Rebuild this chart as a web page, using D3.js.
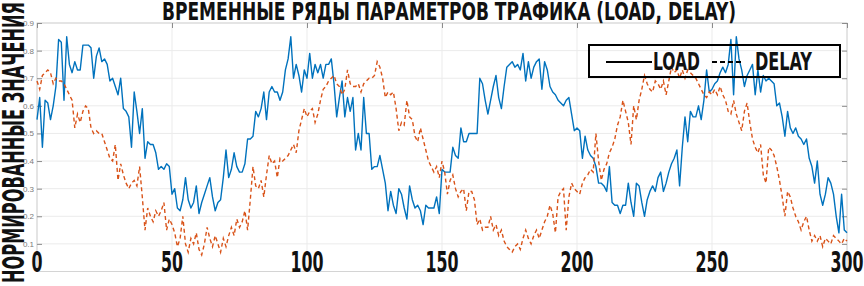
<!DOCTYPE html>
<html>
<head>
<meta charset="utf-8">
<script src="https://cdn.jsdelivr.net/npm/d3@7"></script>
<style>
  body { margin: 0; background: #fff; }
  svg { display: block; }
</style>
</head>
<body>
<div id="chart"></div>
<script>
// --- data ---
const titleText = "ВРЕМЕННЫЕ РЯДЫ ПАРАМЕТРОВ ТРАФИКА (LOAD, DELAY)";
const yLabelText = "НОРМИРОВАННЫЕ ЗНАЧЕНИЯ";
const xTicks = [0, 50, 100, 150, 200, 250, 300];
const yTicks = [0.1, 0.2, 0.3, 0.4, 0.5, 0.6, 0.7, 0.8, 0.9];
const seriesNames = ["LOAD", "DELAY"];

const loadValues = [
  0.55, 0.63, 0.45, 0.62, 0.61, 0.55, 0.60, 0.67, 0.84, 0.83,
  0.62, 0.85, 0.75, 0.72, 0.76, 0.73, 0.73, 0.82, 0.82, 0.82,
  0.81, 0.70, 0.78, 0.81, 0.76, 0.77, 0.75, 0.69, 0.70, 0.67,
  0.64, 0.70, 0.59, 0.58, 0.56, 0.45, 0.65, 0.58, 0.50, 0.59,
  0.41, 0.47, 0.46, 0.46, 0.43, 0.37, 0.38, 0.37, 0.39, 0.38,
  0.28, 0.30, 0.23, 0.22, 0.26, 0.34, 0.26, 0.23, 0.25, 0.31,
  0.21, 0.25, 0.28, 0.31, 0.34, 0.27, 0.22, 0.25, 0.26, 0.34,
  0.44, 0.34, 0.37, 0.43, 0.38, 0.36, 0.36, 0.39, 0.48, 0.48,
  0.49, 0.58, 0.56, 0.59, 0.65, 0.55, 0.65, 0.67, 0.65, 0.65,
  0.62, 0.65, 0.73, 0.77, 0.85, 0.70, 0.75, 0.71, 0.65, 0.73,
  0.70, 0.79, 0.70, 0.75, 0.72, 0.75, 0.70, 0.75, 0.75, 0.77,
  0.68, 0.56, 0.63, 0.69, 0.56, 0.63, 0.58, 0.63, 0.44, 0.50,
  0.44, 0.63, 0.50, 0.50, 0.37, 0.38, 0.38, 0.42, 0.37, 0.32,
  0.22, 0.29, 0.24, 0.21, 0.30, 0.28, 0.23, 0.19, 0.31, 0.26,
  0.23, 0.24, 0.22, 0.17, 0.24, 0.23, 0.23, 0.23, 0.27, 0.21,
  0.37, 0.36, 0.36, 0.36, 0.45, 0.42, 0.41, 0.52, 0.47, 0.47,
  0.50, 0.50, 0.50, 0.50, 0.70, 0.68, 0.62, 0.57, 0.62, 0.67,
  0.71, 0.63, 0.59, 0.67, 0.74, 0.75, 0.76, 0.74, 0.75, 0.73,
  0.79, 0.69, 0.76, 0.70, 0.74, 0.76, 0.77, 0.66, 0.76, 0.73,
  0.67, 0.65, 0.64, 0.62, 0.61, 0.60, 0.62, 0.63, 0.57, 0.51,
  0.52, 0.51, 0.41, 0.49, 0.44, 0.42, 0.41, 0.38, 0.32, 0.32,
  0.31, 0.29, 0.38, 0.25, 0.24, 0.24, 0.21, 0.24, 0.24, 0.32,
  0.25, 0.20, 0.32, 0.31, 0.25, 0.20, 0.26, 0.29, 0.31, 0.29,
  0.34, 0.36, 0.29, 0.32, 0.36, 0.39, 0.41, 0.44, 0.31, 0.45,
  0.56, 0.47, 0.58, 0.56, 0.56, 0.60, 0.55, 0.62, 0.73, 0.65,
  0.66, 0.68, 0.69, 0.72, 0.74, 0.72, 0.75, 0.84, 0.64, 0.85,
  0.77, 0.73, 0.67, 0.71, 0.73, 0.75, 0.64, 0.73, 0.65, 0.71,
  0.69, 0.70, 0.69, 0.68, 0.60, 0.61, 0.56, 0.49, 0.58, 0.52,
  0.50, 0.52, 0.49, 0.48, 0.46, 0.48, 0.41, 0.38, 0.32, 0.40,
  0.28, 0.24, 0.28, 0.34, 0.32, 0.28, 0.20, 0.14, 0.28, 0.15,
  0.14
];

const delayValues = [
  0.69, 0.66, 0.71, 0.72, 0.73, 0.72, 0.68, 0.70, 0.69, 0.69,
  0.68, 0.66, 0.64, 0.62, 0.52, 0.57, 0.54, 0.58, 0.60, 0.59,
  0.52, 0.50, 0.51, 0.50, 0.50, 0.47, 0.44, 0.41, 0.40, 0.46,
  0.33, 0.39, 0.35, 0.32, 0.30, 0.32, 0.33, 0.31, 0.38, 0.27,
  0.15, 0.23, 0.20, 0.18, 0.22, 0.20, 0.22, 0.25, 0.15, 0.19,
  0.17, 0.14, 0.09, 0.12, 0.20, 0.10, 0.07, 0.12, 0.10, 0.14,
  0.08, 0.06, 0.10, 0.16, 0.12, 0.09, 0.13, 0.10, 0.07, 0.12,
  0.09, 0.13, 0.16, 0.13, 0.19, 0.16, 0.18, 0.22, 0.15, 0.26,
  0.38, 0.31, 0.30, 0.33, 0.27, 0.35, 0.42, 0.39, 0.40, 0.34,
  0.41, 0.40, 0.41, 0.42, 0.44, 0.46, 0.43, 0.51, 0.55, 0.59,
  0.56, 0.58, 0.59, 0.54, 0.57, 0.62, 0.66, 0.67, 0.69, 0.70,
  0.71, 0.68, 0.67, 0.64, 0.66, 0.73, 0.68, 0.67, 0.67, 0.68,
  0.65, 0.68, 0.69, 0.70, 0.70, 0.71, 0.76, 0.74, 0.70, 0.63,
  0.65, 0.64, 0.65, 0.59, 0.51, 0.54, 0.53, 0.62, 0.56, 0.55,
  0.49, 0.47, 0.52, 0.48, 0.44, 0.40, 0.38, 0.36, 0.38, 0.34,
  0.40, 0.36, 0.28, 0.33, 0.35, 0.30, 0.27, 0.29, 0.30, 0.22,
  0.29, 0.29, 0.26, 0.17, 0.19, 0.15, 0.16, 0.16, 0.20, 0.15,
  0.17, 0.13, 0.15, 0.11, 0.09, 0.08, 0.07, 0.09, 0.10, 0.08,
  0.12, 0.15, 0.12, 0.10, 0.13, 0.15, 0.12, 0.15, 0.18, 0.20,
  0.24, 0.21, 0.14, 0.27, 0.29, 0.30, 0.15, 0.27, 0.32, 0.30,
  0.29, 0.28, 0.32, 0.34, 0.35, 0.37, 0.36, 0.50, 0.40, 0.33,
  0.37, 0.39, 0.43, 0.45, 0.48, 0.53, 0.56, 0.62, 0.58, 0.54,
  0.46, 0.60, 0.55, 0.62, 0.66, 0.71, 0.68, 0.66, 0.65, 0.69,
  0.68, 0.66, 0.69, 0.64, 0.69, 0.74, 0.72, 0.73, 0.70, 0.73,
  0.70, 0.73, 0.72, 0.71, 0.70, 0.68, 0.66, 0.64, 0.63, 0.65,
  0.64, 0.66, 0.64, 0.67, 0.64, 0.62, 0.58, 0.57, 0.62, 0.57,
  0.54, 0.51, 0.58, 0.61, 0.54, 0.48, 0.45, 0.43, 0.46, 0.35,
  0.32, 0.45, 0.44, 0.42, 0.38, 0.33, 0.27, 0.20, 0.29, 0.27,
  0.23, 0.20, 0.18, 0.15, 0.18, 0.20, 0.15, 0.11, 0.13, 0.11,
  0.13, 0.09, 0.12, 0.11, 0.10, 0.13, 0.12, 0.11, 0.10, 0.12,
  0.11
];

const width = 864;
const height = 286;
const margin = { top: 23, right: 17, bottom: 14.5, left: 37 };
const innerWidth = width - margin.left - margin.right;
const innerHeight = height - margin.top - margin.bottom;

const condensed = "'Liberation Sans Narrow', 'DejaVu Sans Condensed', 'Roboto', sans-serif";

const svg = d3.select("#chart").append("svg")
    .attr("width", width)
    .attr("height", height);

const chart = svg.append("g")
    .attr("transform", `translate(${margin.left},${margin.top})`);

const x = d3.scaleLinear().domain([0, 300]).range([0, innerWidth]);
const y = d3.scaleLinear().domain([0, 0.9]).range([innerHeight, 0]);

// grid
chart.append("g")
    .selectAll("line.gx")
    .data(xTicks)
    .enter().append("line")
    .attr("x1", d => x(d)).attr("x2", d => x(d))
    .attr("y1", 0).attr("y2", innerHeight)
    .attr("stroke", "#ebebeb").attr("stroke-width", 1);

chart.append("g")
    .selectAll("line.gy")
    .data(yTicks)
    .enter().append("line")
    .attr("x1", 0).attr("x2", innerWidth)
    .attr("y1", d => y(d)).attr("y2", d => y(d))
    .attr("stroke", "#ebebeb").attr("stroke-width", 1);

// frame
chart.append("rect")
    .attr("width", innerWidth).attr("height", innerHeight)
    .attr("fill", "none").attr("stroke", "#d4d4d4");

// inward ticks (left/right/top)
const yAxisL = chart.append("g").call(d3.axisRight(y).tickValues(yTicks).tickSize(5).tickFormat(""));
const yAxisR = chart.append("g").attr("transform", `translate(${innerWidth},0)`)
    .call(d3.axisLeft(y).tickValues(yTicks).tickSize(5).tickFormat(""));
const xAxisT = chart.append("g").call(d3.axisBottom(x).tickValues(xTicks).tickSize(5).tickFormat(""));
[yAxisL, yAxisR, xAxisT].forEach(g => {
    g.select(".domain").remove();
    g.selectAll(".tick line").attr("stroke", "#8c8c8c");
});

// small y tick labels
chart.append("g")
    .selectAll("text")
    .data(yTicks)
    .enter().append("text")
    .attr("x", -3)
    .attr("y", d => y(d) + 3)
    .attr("text-anchor", "end")
    .attr("font-family", "'Liberation Sans', Arial, sans-serif")
    .attr("font-size", "8px")
    .attr("fill", "#7a7a7a")
    .text(d => d.toFixed(1));

// lines
const idx = d3.range(loadValues.length);
const line = vals => d3.line()
    .x(i => x(i))
    .y(i => y(vals[i]))(idx);

chart.append("path")
    .attr("d", line(loadValues))
    .attr("fill", "none")
    .attr("stroke", "#0072BD")
    .attr("stroke-width", 1.4)
    .attr("stroke-linejoin", "round");

chart.append("path")
    .attr("d", line(delayValues))
    .attr("fill", "none")
    .attr("stroke", "#D95319")
    .attr("stroke-width", 1.4)
    .attr("stroke-dasharray", "4,3");

// big x tick labels
chart.append("g")
    .selectAll("text")
    .data(xTicks)
    .enter().append("text")
    .attr("x", d => x(d))
    .attr("y", innerHeight + 0.5)
    .attr("text-anchor", "middle")
    .attr("font-family", condensed)
    .attr("font-weight", "bold")
    .attr("font-size", "28px")
    .attr("fill", "#111")
    .attr("textLength", d => String(d).length * 11)
    .attr("lengthAdjust", "spacingAndGlyphs")
    .text(d => d);

// title
svg.append("text")
    .attr("x", 449)
    .attr("y", 20)
    .attr("text-anchor", "middle")
    .attr("font-family", condensed)
    .attr("font-weight", "bold")
    .attr("font-size", "24px")
    .attr("fill", "#111")
    .attr("textLength", 574)
    .attr("lengthAdjust", "spacingAndGlyphs")
    .text(titleText);

// y label
svg.append("text")
    .attr("transform", "translate(24,142.5) rotate(-90)")
    .attr("text-anchor", "middle")
    .attr("font-family", condensed)
    .attr("font-weight", "bold")
    .attr("font-size", "31px")
    .attr("fill", "#111")
    .attr("textLength", 281)
    .attr("lengthAdjust", "spacingAndGlyphs")
    .text(yLabelText);

// legend
const legend = svg.append("g");
legend.append("rect")
    .attr("x", 589).attr("y", 45)
    .attr("width", 251).attr("height", 32)
    .attr("fill", "none")
    .attr("stroke", "#000").attr("stroke-width", 2);

legend.append("line")
    .attr("x1", 606).attr("x2", 652)
    .attr("y1", 62).attr("y2", 62)
    .attr("stroke", "#000").attr("stroke-width", 2);

legend.append("text")
    .attr("x", 653).attr("y", 70)
    .attr("font-family", condensed)
    .attr("font-weight", "bold")
    .attr("font-size", "25px")
    .attr("fill", "#111")
    .attr("textLength", 47)
    .attr("lengthAdjust", "spacingAndGlyphs")
    .text(seriesNames[0]);

legend.append("line")
    .attr("x1", 712).attr("x2", 743)
    .attr("y1", 62).attr("y2", 62)
    .attr("stroke", "#000").attr("stroke-width", 2)
    .attr("stroke-dasharray", "5,3");

legend.append("text")
    .attr("x", 755).attr("y", 70)
    .attr("font-family", condensed)
    .attr("font-weight", "bold")
    .attr("font-size", "25px")
    .attr("fill", "#111")
    .attr("textLength", 57)
    .attr("lengthAdjust", "spacingAndGlyphs")
    .text(seriesNames[1]);
</script>
</body>
</html>
